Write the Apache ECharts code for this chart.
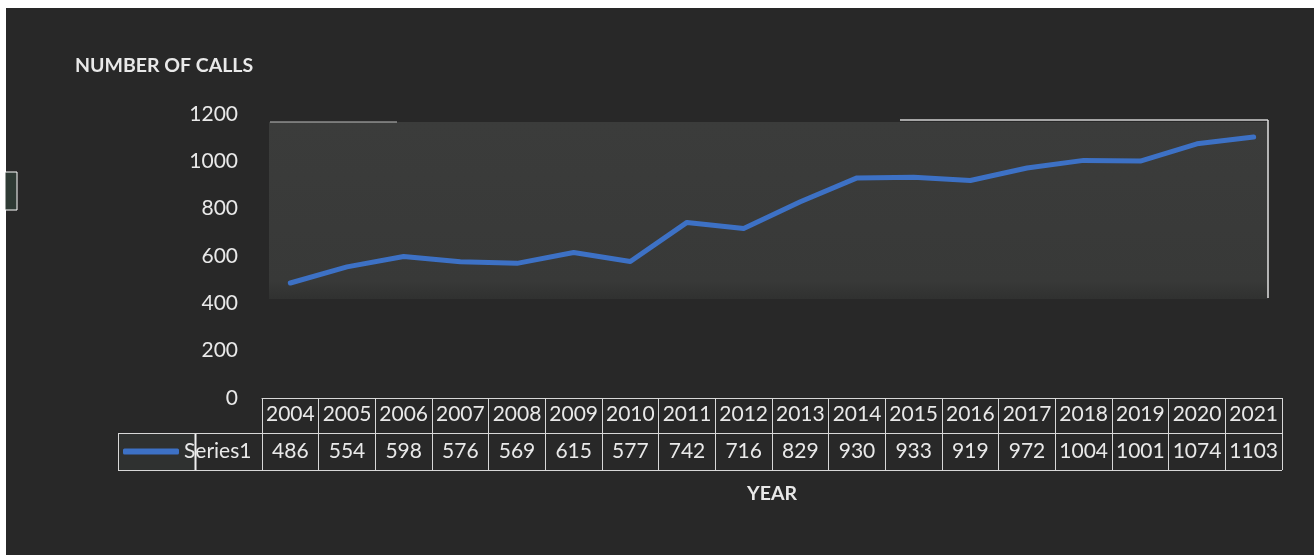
<!DOCTYPE html>
<html>
<head>
<meta charset="utf-8">
<script src="https://cdn.jsdelivr.net/npm/echarts@6/dist/echarts.min.js"></script>
<style>
html,body{margin:0;padding:0;background:#ffffff;}
#chart{width:1314px;height:555px;}
</style>
</head>
<body>
<div id="chart"></div>
<script>
const years = ['2004','2005','2006','2007','2008','2009','2010','2011','2012','2013','2014','2015','2016','2017','2018','2019','2020','2021'];
const calls = [486,554,598,576,569,615,577,742,716,829,930,933,919,972,1004,1001,1074,1103];
const seriesName = 'Series1';
const yTicks = {min:0, max:1200, interval:200};

const FONT = 'Lato, "Open Sans", sans-serif';
const TXT = '#e9e9e9';
const chart = echarts.init(document.getElementById('chart'), null, {renderer:'canvas'});

const option = {
  backgroundColor: '#282828',
  animation: false,
  title: {
    text: 'NUMBER OF CALLS',
    left: 70, top: 51,
    textStyle: {color: TXT, fontFamily: FONT, fontWeight: 'bold', fontSize: 19.5}
  },
  legend: {
    data: [seriesName],
    left: 123, top: 441, padding: 0,
    itemWidth: 56, itemHeight: 6,
    icon: 'roundRect',
    textStyle: {color: TXT, fontFamily: FONT, fontSize: 21}
  },
  grid: {left: 262, right: 32, top: 114, bottom: 157, containLabel: false},
  xAxis: [
    {
      type: 'category', data: years, boundaryGap: true, position: 'bottom',
      axisLine: {show: true, lineStyle: {color: '#d8d8d8', width: 1}},
      axisTick: {show: true, alignWithLabel: false, length: 35, lineStyle: {color: '#d8d8d8'}},
      axisLabel: {color: TXT, fontFamily: FONT, fontSize: 21, margin: 6, interval: 0},
      splitLine: {show: false}
    },
    {
      type: 'category', data: calls.map(String), boundaryGap: true, position: 'bottom', offset: 35,
      name: 'YEAR', nameLocation: 'middle', nameGap: 51,
      nameTextStyle: {color: TXT, fontFamily: FONT, fontWeight: 'bold', fontSize: 19.5},
      axisLine: {show: true, lineStyle: {color: '#d8d8d8', width: 1}},
      axisTick: {show: true, length: 37, lineStyle: {color: '#d8d8d8'}},
      axisLabel: {color: TXT, fontFamily: FONT, fontSize: 21, margin: 8, interval: 0},
      splitLine: {show: false}
    }
  ],
  yAxis: {
    type: 'value', min: yTicks.min, max: yTicks.max, interval: yTicks.interval,
    axisLine: {show: false}, axisTick: {show: false},
    splitLine: {show: false},
    axisLabel: {color: TXT, fontFamily: FONT, fontSize: 21, margin: 24, formatter: v => String(v)}
  },
  graphic: [
    {type:'rect', z:-10, shape:{x:269, y:122, width:999, height:177},
     style:{fill:{type:'linear',x:0,y:0,x2:0,y2:1,colorStops:[{offset:0,color:'#3b3c3b'},{offset:0.9,color:'#383938'},{offset:1,color:'#303130'}]}}},
    {type:'line', z:-5, shape:{x1:270,y1:122,x2:397,y2:122}, style:{stroke:'#bdbdbd', lineWidth:1}},
    {type:'line', z:-5, shape:{x1:900,y1:120,x2:1268,y2:120}, style:{stroke:'#d0d0d0', lineWidth:1.5}},
    {type:'line', z:-5, shape:{x1:1268,y1:120,x2:1268,y2:298}, style:{stroke:'#e0e0e0', lineWidth:1.5}},
    {type:'line', shape:{x1:118,y1:433.5,x2:262,y2:433.5}, style:{stroke:'#d8d8d8', lineWidth:1}},
    {type:'line', shape:{x1:118,y1:470.5,x2:1282,y2:470.5}, style:{stroke:'#d8d8d8', lineWidth:1}},
    {type:'line', shape:{x1:118.5,y1:433,x2:118.5,y2:470}, style:{stroke:'#d8d8d8', lineWidth:1}},
    {type:'rect', z:-5, shape:{x:119, y:434, width:76, height:36}, style:{fill:'#2f3130'}},
    {type:'line', shape:{x1:195.5,y1:434,x2:195.5,y2:470}, style:{stroke:'#f0f0f0', lineWidth:2}},
    {type:'rect', shape:{x:0, y:0, width:1314, height:8}, style:{fill:'#ffffff'}},
    {type:'rect', shape:{x:0, y:0, width:6, height:555}, style:{fill:'#ffffff'}},
    {type:'rect', shape:{x:5, y:172, width:12, height:38}, style:{fill:'#2e3a34', stroke:'#ffffff', lineWidth:1}}
  ],
  series: [{
    name: seriesName, type: 'line', data: calls, xAxisIndex: 0,
    showSymbol: false, symbol: 'none', smooth: false,
    lineStyle: {color: '#3d71c5', width: 5, cap: 'round', join: 'round'},
    itemStyle: {color: '#3d71c5'}
  }]
};
chart.setOption(option);
</script>
</body>
</html>
